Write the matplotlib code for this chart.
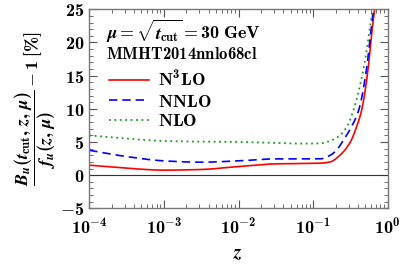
import numpy as np
import matplotlib
matplotlib.use("Agg")
from matplotlib import pyplot as plt
from matplotlib.ticker import FuncFormatter, MultipleLocator, LogLocator

plt.rcParams['font.family'] = 'serif'
plt.rcParams['font.serif'] = ['DejaVu Serif']
plt.rcParams['font.weight'] = 'bold'
plt.rcParams['mathtext.fontset'] = 'custom'
plt.rcParams['mathtext.rm'] = 'cmb10'
plt.rcParams['mathtext.bf'] = 'cmb10'
plt.rcParams['mathtext.it'] = 'STIXGeneral:italic:bold'
plt.rcParams['axes.unicode_minus'] = True

# values: log10(z) and the percent deviation
lz_n3lo = [-4, -3.5, -3, -2.5, -2, -1.5, -1.18, -0.91, -0.77, -0.64, -0.5, -0.42, -0.35, -0.26, -0.215, -0.16]
y_n3lo = [1.5, 1.05, 0.75, 0.85, 1.3, 1.7, 1.75, 1.8, 2.0, 3.0, 5.0, 7.2, 9.75, 16.3, 21.3, 26.5]

lz_nnlo = [-4, -3.5, -3, -2.5, -2, -1.5, -1.18, -0.91, -0.77, -0.68, -0.6, -0.5, -0.39, -0.28, -0.23, -0.175]
y_nnlo = [3.75, 2.8, 2.15, 1.95, 2.15, 2.45, 2.45, 2.45, 3.0, 3.85, 5.15, 7.0, 9.75, 16.3, 21.3, 26.5]

lz_nlo = [-4, -3.5, -3, -2.5, -2, -1.5, -1.18, -0.91, -0.73, -0.64, -0.55, -0.46, -0.32, -0.25, -0.185]
y_nlo = [6.0, 5.5, 5.15, 5.05, 5.0, 4.85, 4.75, 4.8, 5.35, 6.0, 7.25, 9.75, 16.3, 21.3, 26.5]

labels = [r'$\mathrm{N^3LO}$', r'$\mathrm{NNLO}$', r'$\mathrm{NLO}$']


def pchip(xk, yk, xs):
    xk = np.asarray(xk, float)
    yk = np.asarray(yk, float)
    h = np.diff(xk)
    d = np.diff(yk) / h
    m = np.zeros_like(yk)
    for i in range(1, len(xk) - 1):
        if d[i - 1] * d[i] > 0:
            w1 = 2 * h[i] + h[i - 1]
            w2 = h[i] + 2 * h[i - 1]
            m[i] = (w1 + w2) / (w1 / d[i - 1] + w2 / d[i])
    m[0] = d[0]
    m[-1] = d[-1]
    idx = np.clip(np.searchsorted(xk, xs) - 1, 0, len(xk) - 2)
    t = (xs - xk[idx]) / h[idx]
    h00 = 2 * t**3 - 3 * t**2 + 1
    h10 = t**3 - 2 * t**2 + t
    h01 = -2 * t**3 + 3 * t**2
    h11 = t**3 - t**2
    return h00 * yk[idx] + h10 * h[idx] * m[idx] + h01 * yk[idx + 1] + h11 * h[idx] * m[idx + 1]


def smooth(lz, ys):
    fine = np.linspace(lz[0], lz[-1], 600)
    return 10 ** fine, pchip(lz, ys, fine)


fig = plt.figure(figsize=(4.07, 2.66), dpi=100)
ax = fig.add_axes([0.2194, 0.2169, 0.7332, 0.7481])

ax.axhline(0, color='#333333', lw=0.8)
x, y = smooth(lz_n3lo, y_n3lo)
ax.plot(x, y, color='red', lw=1.2, label=labels[0])
x, y = smooth(lz_nnlo, y_nnlo)
ax.plot(x, y, color='blue', lw=1.2, ls=(0, (5, 3)), label=labels[1])
x, y = smooth(lz_nlo, y_nlo)
ax.plot(x, y, color='#1a9a1a', lw=1.3, ls=(0, (1, 2)), label=labels[2])

ax.set_xscale('log')
ax.set_xlim(1e-4, 1)
ax.set_ylim(-5, 25)
ax.yaxis.set_major_locator(MultipleLocator(5))
ax.yaxis.set_minor_locator(MultipleLocator(1))
ax.xaxis.set_major_locator(LogLocator(base=10, numticks=10))
ax.xaxis.set_minor_locator(LogLocator(base=10, subs=np.arange(2, 10), numticks=10))
ax.xaxis.set_major_formatter(FuncFormatter(lambda v, p: r'$\mathrm{10^{%d}}$' % round(np.log10(v))))
ax.yaxis.set_major_formatter(FuncFormatter(lambda v, p: r'$\mathrm{%d}$' % v))
ax.tick_params(which='both', direction='in', top=True, right=True, color='#555555', labelsize=13)
ax.tick_params(axis='x', pad=7)
ax.tick_params(which='major', length=6)
ax.tick_params(which='minor', length=3)
for s in ax.spines.values():
    s.set_color('#777777')
    s.set_linewidth(1.0)

ax.set_xlabel(r'$z$', fontsize=14, labelpad=4)
ax.set_ylabel(r'$\dfrac{B_u(t_{\mathrm{cut}},\, z,\, \mu)}{f_u(z,\, \mu)} - \mathrm{1\ [\%]}$', fontsize=13, labelpad=2)

ax.text(0.055, 0.85, r'$\mu = \sqrt{t_{\mathrm{cut}}} = \mathrm{30\ GeV}$', transform=ax.transAxes,
        fontsize=13, va='baseline')
ax.text(0.055, 0.75, r'$\mathrm{MMHT2014nnlo68cl}$', transform=ax.transAxes, fontsize=12, va='baseline')
ax.legend(loc='upper left', bbox_to_anchor=(0.017, 0.765), frameon=False, fontsize=13,
          handlelength=2.2, handletextpad=0.5, labelspacing=0.1, borderpad=0.3)

fig.savefig('out.png', dpi=100)
